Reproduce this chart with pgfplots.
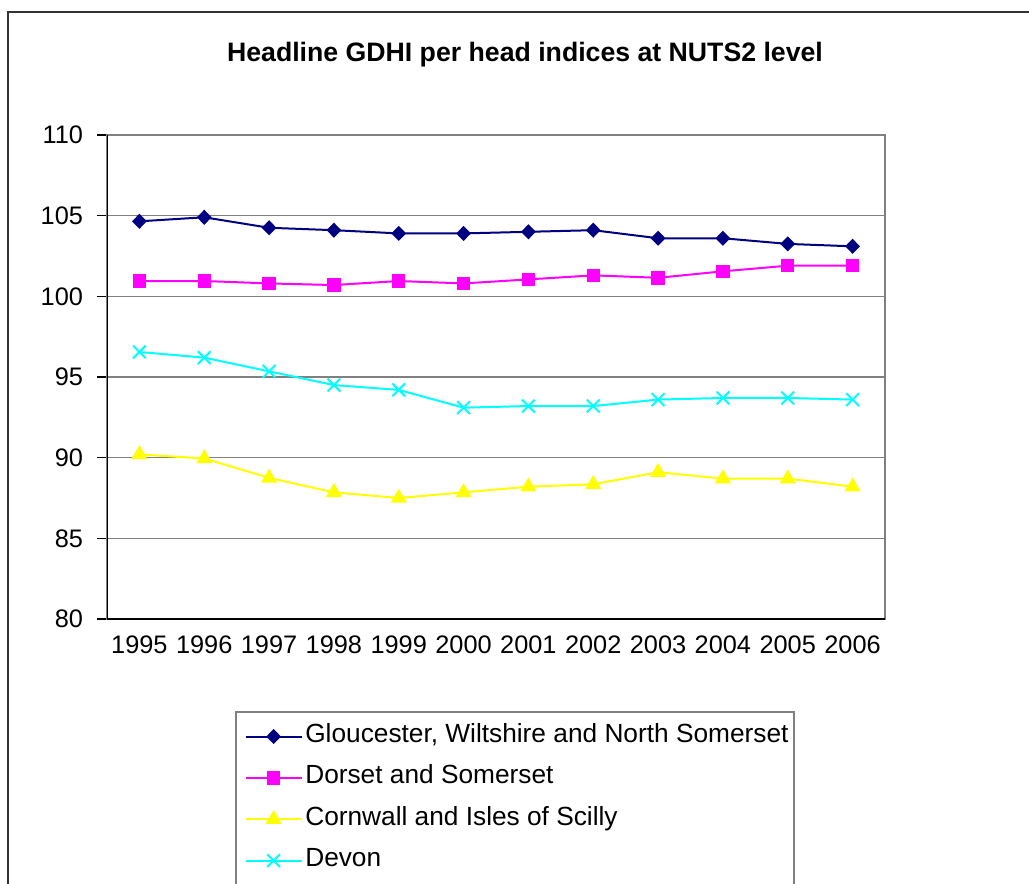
\documentclass[border=0pt]{standalone}
\usepackage{pgfplots}
\pgfplotsset{compat=1.18}
\usepackage{fontspec}
\setmainfont{Liberation Sans}

\definecolor{gwnavy}{HTML}{000080}
\definecolor{dsmag}{HTML}{FF00FF}
\definecolor{cwyel}{HTML}{FFFF00}
\definecolor{dvcyan}{HTML}{00FFFF}

\begin{document}
\begin{tikzpicture}
	% page = 1029 x 883 px, 1px = 0.75pt
	\useasboundingbox (0,0) rectangle (771.75pt,662.25pt);
	% outer chart frame (right and bottom edges fall off the page)
	\draw[line width=1.1pt, black!80] (6pt,-30pt) |- (800pt,653.25pt);

	\node[font=\bfseries\fontsize{20}{24}\selectfont] at (393.75pt,621.5pt)
		{Headline GDHI per head indices at NUTS2 level};

	% legend frame, its bottom edge falls off the page as well
	\draw[gray, line width=0.8pt] (177pt,-20pt) |- (595.5pt,128.25pt) -- (595.5pt,-20pt);

	\begin{axis}[
			at={(80.25pt,198pt)}, anchor=south west,
			scale only axis,
			width=583.5pt, height=363pt,
			xmin=-0.5, xmax=11.5,
			ymin=80, ymax=110,
			ytick={80,85,...,110},
			% tick marks between the categories, labels under them
			xtick=\empty,
			minor xtick={-0.5,0.5,...,11.5},
			extra x ticks={0,...,11},
			extra x tick labels={1995,1996,1997,1998,1999,2000,2001,2002,2003,2004,2005,2006},
			extra x tick style={major tick length=0pt},
			xtick pos=bottom, ytick pos=left,
			tick align=outside,
			major tick length=7.5pt,
			minor tick length=5pt,
			tick style={black, line width=0.8pt},
			ymajorgrids=true,
			grid style={gray, line width=0.8pt},
			axis line style={gray, line width=1pt},
			% the downward shift is meant for the year labels; the y labels undo it
			ticklabel style={font=\fontsize{19}{22}\selectfont, yshift=-9pt},
			yticklabel style={xshift=-7pt, yshift=9pt},
			/pgf/number format/assume math mode=true,
			legend style={
					at={(0.1697,-0.2024)}, anchor=north west,
					draw=none, fill=none,
					font=\fontsize{19.7}{23}\selectfont,
					row sep=10pt, inner sep=4pt,
					nodes={inner sep=2pt, text height=13pt, text depth=4pt},
				},
			legend cell align=left,
			legend image code/.code={
					\draw[mark repeat=2, mark phase=2, #1]
					plot coordinates {(0pt,0pt) (21pt,0pt) (42pt,0pt)};
				},
			every axis plot/.append style={line width=1.5pt},
		]

		\addplot[color=gwnavy, mark=diamond*, mark size=4.6pt,
			mark options={solid, xscale=1.3}]
		coordinates {
				(0,104.65)(1,104.9)(2,104.25)(3,104.1)(4,103.9)(5,103.9)
				(6,104.0)(7,104.1)(8,103.6)(9,103.6)(10,103.25)(11,103.1)
			};
		\addlegendentry{Gloucester, Wiltshire and North Somerset}

		\addplot[color=dsmag, mark=square*, mark size=4.3pt]
		coordinates {
				(0,100.95)(1,100.95)(2,100.8)(3,100.7)(4,100.95)(5,100.8)
				(6,101.05)(7,101.3)(8,101.15)(9,101.55)(10,101.9)(11,101.9)
			};
		\addlegendentry{Dorset and Somerset}

		\addplot[color=cwyel, mark=triangle*, mark size=5.5pt]
		coordinates {
				(0,90.2)(1,89.95)(2,88.75)(3,87.85)(4,87.5)(5,87.85)
				(6,88.2)(7,88.35)(8,89.1)(9,88.7)(10,88.7)(11,88.2)
			};
		\addlegendentry{Cornwall and Isles of Scilly}

		\addplot[color=dvcyan, mark=x, mark size=6.8pt]
		coordinates {
				(0,96.55)(1,96.2)(2,95.35)(3,94.5)(4,94.2)(5,93.1)
				(6,93.2)(7,93.2)(8,93.6)(9,93.7)(10,93.7)(11,93.6)
			};
		\addlegendentry{Devon}

		% left and bottom axes are black in the original
		\draw[black, line width=1pt] (rel axis cs:0,1) -- (rel axis cs:0,0) -- (rel axis cs:1,0);
	\end{axis}
\end{tikzpicture}
\end{document}
